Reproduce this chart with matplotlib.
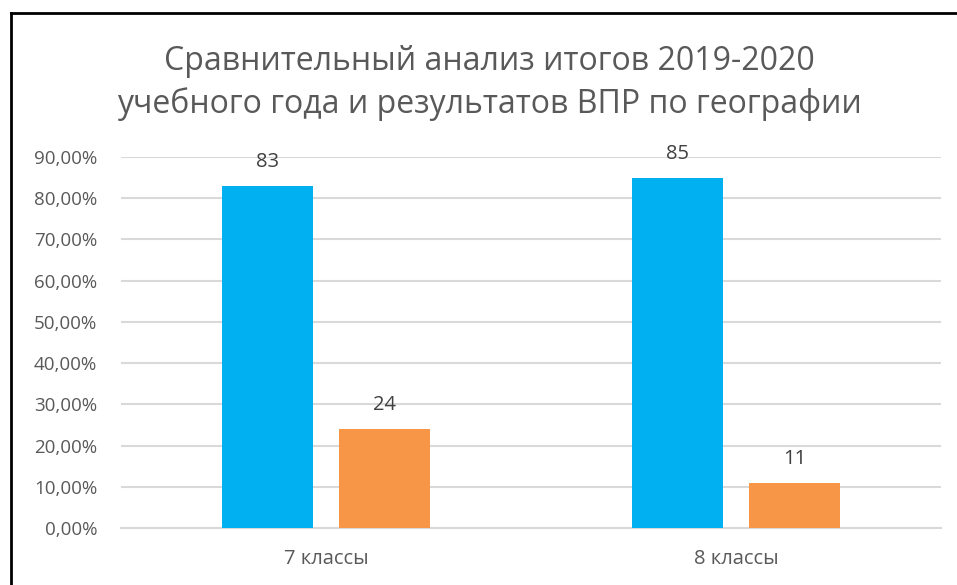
import matplotlib
matplotlib.use('Agg')
import matplotlib.pyplot as plt
from matplotlib.lines import Line2D
from matplotlib.ticker import FuncFormatter

plt.rcParams['font.family'] = ['Open Sans', 'DejaVu Sans']

categories = ['7 классы', '8 классы']
itogi = [83, 85]      # blue series
vpr = [24, 11]        # orange series
yticks = [0, 10, 20, 30, 40, 50, 60, 70, 80, 90]
title_lines = ['Сравнительный анализ итогов 2019-2020',
               'учебного года и результатов ВПР по географии']

fig = plt.figure(figsize=(9.57, 5.85), dpi=100)
ax = fig.add_axes([0.1264, 0.0974, 0.8569, 0.6342])

x = list(range(len(categories)))
w = 0.222
off = 0.143
b1 = ax.bar([i - off for i in x], itogi, width=w, color='#00b0f0', zorder=3)
b2 = ax.bar([i + off for i in x], vpr, width=w, color='#f79646', zorder=3)

for bars, vals in ((b1, itogi), (b2, vpr)):
    for b, v in zip(bars, vals):
        ax.annotate(str(v), (b.get_x() + b.get_width() / 2, v),
                    xytext=(0, 10), textcoords='offset points',
                    ha='center', va='bottom', fontsize=14.5, color='#404040')

ax.set_xlim(-0.5, 1.5)
ax.set_ylim(0, 90)
ax.set_yticks(yticks)
ax.yaxis.set_major_formatter(FuncFormatter(lambda v, p: ('%.2f%%' % v).replace('.', ',')))
ax.set_xticks(x)
ax.set_xticklabels(categories)
ax.tick_params(axis='both', length=0, labelcolor='#595959')
ax.tick_params(axis='y', pad=17, labelsize=13.5)
ax.tick_params(axis='x', pad=15, labelsize=14.5)
ax.grid(axis='y', color='#d9d9d9', linewidth=1.5, zorder=0)
for s in ['top', 'right', 'left']:
    ax.spines[s].set_visible(False)
ax.spines['bottom'].set_color('#d9d9d9')
ax.spines['bottom'].set_linewidth(1.5)

# two title lines placed on their baselines
for txt, yb in zip(title_lines, [70, 113]):
    fig.text(0.511, 1 - yb / 585, txt, ha='center', va='baseline', fontsize=23,
             color='#595959')

# chart frame (only left and top visible in the crop)
fig.add_artist(Line2D([10.5 / 957, 10.5 / 957], [0, 1 - 13 / 585], color='black', lw=2))
fig.add_artist(Line2D([10.5 / 957, 1], [1 - 13 / 585, 1 - 13 / 585], color='black', lw=2))

fig.savefig('out.png', dpi=100)
